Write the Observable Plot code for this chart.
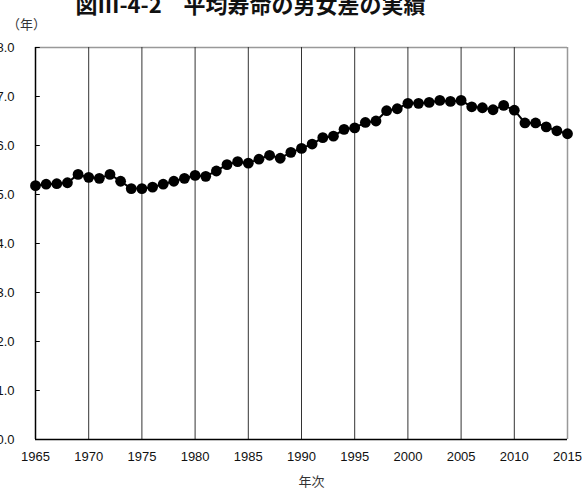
<!DOCTYPE html>
<html><head><meta charset="utf-8">
<script src="https://cdn.jsdelivr.net/npm/d3@7"></script>
<script src="https://cdn.jsdelivr.net/npm/@observablehq/plot@0.6"></script>
<style>
body{margin:0;background:#fff;}
#chart{position:relative;width:583px;height:488px;overflow:hidden;}
</style>
</head><body><div id="chart"></div>
<script>
const years = d3.range(1965, 2016);
const diffs = [5.18,5.21,5.22,5.24,5.41,5.35,5.33,5.41,5.27,5.12,
5.12,5.15,5.21,5.27,5.33,5.39,5.37,5.48,5.61,5.67,
5.64,5.72,5.80,5.74,5.86,5.94,6.03,6.16,6.19,6.33,
6.36,6.47,6.50,6.71,6.75,6.86,6.86,6.88,6.92,6.90,
6.92,6.79,6.77,6.73,6.82,6.72,6.46,6.46,6.38,6.30,6.24];
const xTicks = [1965,1970,1975,1980,1985,1990,1995,2000,2005,2010,2015];
const yTicks = [0,1,2,3,4,5,6,7,8];
const title = "図Ⅲ-4-2　平均寿命の男女差の実績";
const yUnit = "（年）";
const xLabel = "年次";

const data = years.map((y,i)=>({year:y, v:diffs[i]}));
const font = "'Noto Sans CJK JP', 'Liberation Sans', sans-serif";
const numFont = "'Liberation Sans', Arial, sans-serif";

const chart = Plot.plot({
  width: 583, height: 488,
  marginTop: 47, marginLeft: 35, marginRight: 16, marginBottom: 49,
  style: {fontFamily: font, fontSize: "13px", color: "#111", background: "#fff"},
  x: {domain: [1965, 2015], ticks: xTicks, tickFormat: d=>String(d)},
  y: {domain: [0, 8], ticks: yTicks, tickFormat: d=>d.toFixed(1)},
  marks: [
    Plot.ruleY([8], {stroke: "#999", strokeWidth: 1.5}),
    Plot.ruleX(xTicks.slice(1, -1), {stroke: "#333", strokeWidth: 1}),
    Plot.ruleX([2015], {stroke: "#999", strokeWidth: 1.5}),
    Plot.ruleY(yTicks, {x1: 1965, x2: 1965.45, stroke: "#000", strokeWidth: 1}),
    Plot.ruleX([1965], {stroke: "#000", strokeWidth: 1.5}),
    Plot.ruleY([0], {stroke: "#000", strokeWidth: 1.5}),
    Plot.axisY({ticks: yTicks, tickSize: 0, tickPadding: 21, tickFormat: d=>d.toFixed(1), label: null, fontSize: 13, fontFamily: numFont}),
    Plot.axisX({ticks: xTicks, tickSize: 0, tickPadding: 12, tickFormat: d=>String(d), label: null, fontSize: 13, fontFamily: numFont}),
    Plot.line(data, {x: "year", y: "v", stroke: "#000", strokeWidth: 2}),
    Plot.dot(data, {x: "year", y: "v", r: 5.4, fill: "#000", stroke: "none"}),
    Plot.text([title], {frameAnchor: "top", dx: -51, dy: -42, text: d=>d, fontSize: 22, fontWeight: "bold", fill: "#111", textAnchor: "middle", lineAnchor: "middle"}),
    Plot.text([yUnit], {frameAnchor: "top-left", dx: -9, dy: -23, text: d=>d, fontSize: 13, fill: "#333", textAnchor: "middle", lineAnchor: "middle"}),
    Plot.text([xLabel], {frameAnchor: "bottom", dx: 10, dy: 42, text: d=>d, fontSize: 13, fill: "#333", textAnchor: "middle", lineAnchor: "middle"})
  ]
});
document.getElementById("chart").appendChild(chart);
</script>
</body></html>
